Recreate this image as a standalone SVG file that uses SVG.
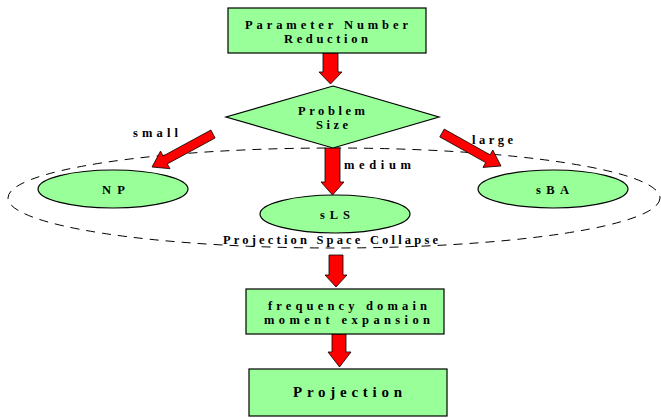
<svg xmlns="http://www.w3.org/2000/svg" width="661" height="418" viewBox="0 0 661 418">
<style>
.box{fill:#99ff99;stroke:#000;stroke-width:1.2}
.arr{fill:#ff0000;stroke:#000;stroke-width:0.8}
.t{font-family:"Liberation Serif","Times New Roman",serif;font-weight:bold;font-size:12.5px;fill:#000}
.dash{fill:none;stroke:#000;stroke-width:1;stroke-dasharray:9 7}
</style>
<rect width="661" height="418" fill="#fff"/>
<g id="collapse">
<ellipse class="dash" cx="334" cy="198" rx="326" ry="50"/>
<text class="t" x="223" y="244" textLength="215" lengthAdjust="spacing">Projection Space Collapse</text>
</g>
<g id="connectors">
<polygon class="arr" points="323,53 338,53 338,72 342,72 330.5,84 319,72 323,72"/>
<polygon class="arr" points="325,148 340,148 340,182 344,182 332.5,195 321,182 325,182"/>
<polygon class="arr" points="215.1,138 167.3,163.9 170,168.7 152,167 160.5,151.1 163.1,156 210.9,130"/>
<polygon class="arr" points="439.8,136.9 485.7,162.6 483,167.4 501,166 492.8,150 490.1,154.8 444.2,129.1"/>
<polygon class="arr" points="329,255 343,255 343,275 347,275 336,287 325,275 329,275"/>
<polygon class="arr" points="332,334 346,334 346,352 351,352 339.5,367 328,352 332,352"/>
<text class="t" x="133" y="137" textLength="45" lengthAdjust="spacing">small</text>
<text class="t" x="344" y="169" textLength="67" lengthAdjust="spacing">medium</text>
<text class="t" x="472" y="144" textLength="41" lengthAdjust="spacing">large</text>
</g>
<g id="param">
<rect class="box" x="228" y="8" width="198" height="45"/>
<text class="t" x="245" y="29" textLength="163" lengthAdjust="spacing">Parameter Number</text>
<text class="t" x="284" y="43" textLength="84" lengthAdjust="spacing">Reduction</text>
</g>
<g id="size">
<polygon class="box" points="333,86 439,117 333,148 226,117"/>
<text class="t" x="298" y="115" textLength="67" lengthAdjust="spacing">Problem</text>
<text class="t" x="316" y="129" textLength="32" lengthAdjust="spacing">Size</text>
</g>
<g id="np">
<ellipse class="box" cx="113" cy="189" rx="75" ry="19"/>
<text class="t" x="102" y="194" textLength="23" lengthAdjust="spacing">NP</text>
</g>
<g id="sls">
<ellipse class="box" cx="335" cy="214" rx="75" ry="19"/>
<text class="t" x="320" y="219" textLength="30" lengthAdjust="spacing">sLS</text>
</g>
<g id="sba">
<ellipse class="box" cx="553" cy="189" rx="75" ry="19"/>
<text class="t" x="536" y="194" textLength="33" lengthAdjust="spacing">sBA</text>
</g>
<g id="freq">
<rect class="box" x="246" y="289" width="198" height="45"/>
<text class="t" x="268" y="309.5" textLength="159" lengthAdjust="spacing">frequency domain</text>
<text class="t" x="264" y="323.5" textLength="166" lengthAdjust="spacing">moment expansion</text>
</g>
<g id="proj">
<rect class="box" x="249" y="369" width="198" height="47"/>
<text class="t" x="293" y="397" style="font-size:15px" textLength="109" lengthAdjust="spacing">Projection</text>
</g>
</svg>
